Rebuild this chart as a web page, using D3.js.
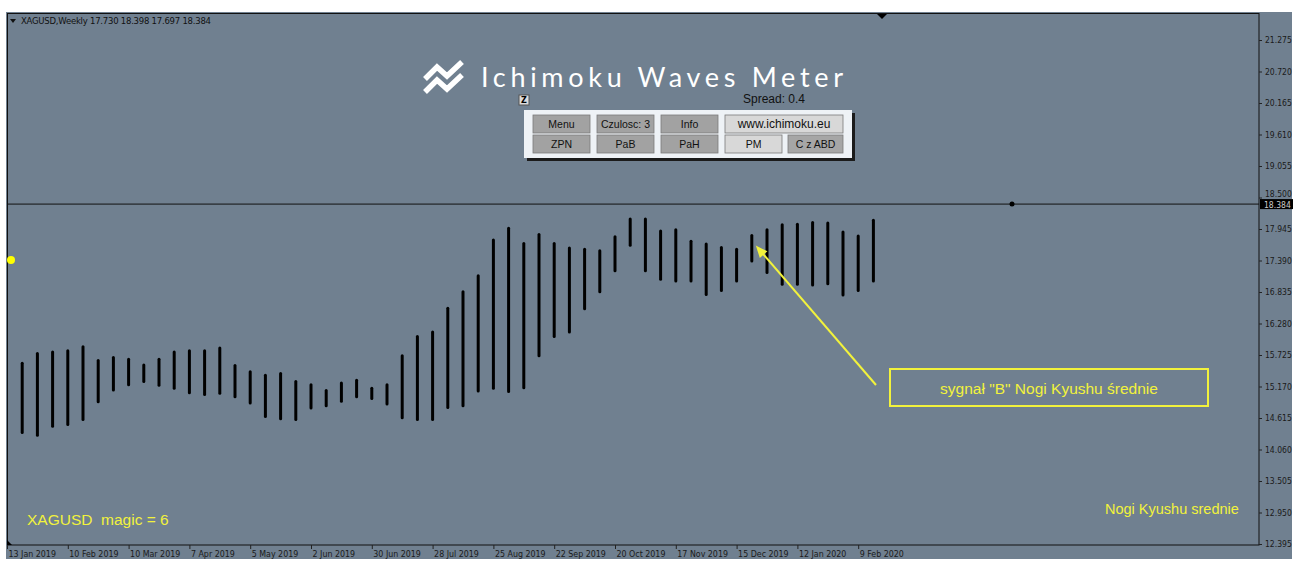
<!DOCTYPE html>
<html>
<head>
<meta charset="utf-8">
<script src="https://cdnjs.cloudflare.com/ajax/libs/d3/7.9.0/d3.min.js"></script>
<style>
  body { margin: 0; background: #fff; }
  svg { display: block; }
</style>
</head>
<body>
<script>
// weekly "Nogi Kyushu srednie" bars, first one is 20 Jan 2019 (index 1)
const barHigh = [15.58, 15.75, 15.78, 15.80, 15.87, 15.63, 15.68, 15.65, 15.55, 15.65,
  15.78, 15.80, 15.80, 15.85, 15.54, 15.43, 15.37, 15.40, 15.26, 15.20,
  15.10, 15.23, 15.28, 15.14, 15.20, 15.71, 16.05, 16.13, 16.55, 16.84,
  17.12, 17.75, 17.96, 17.69, 17.85, 17.69, 17.61, 17.59, 17.56, 17.81,
  18.12, 18.12, 17.91, 17.93, 17.73, 17.68, 17.62, 17.59, 17.83, 17.93,
  18.02, 18.03, 18.06, 18.05, 17.89, 17.82, 18.10];
const barLow = [14.36, 14.31, 14.47, 14.50, 14.59, 14.90, 15.11, 15.20, 15.26, 15.19,
  15.14, 15.06, 15.03, 15.05, 14.99, 14.88, 14.64, 14.60, 14.59, 14.79,
  14.83, 14.91, 14.99, 14.96, 14.86, 14.62, 14.59, 14.59, 14.80, 14.83,
  15.09, 15.14, 15.08, 15.15, 15.71, 16.05, 16.13, 16.54, 16.84, 17.21,
  17.66, 17.21, 17.06, 17.03, 17.03, 16.79, 16.86, 17.03, 17.38, 17.18,
  16.97, 16.97, 16.96, 16.98, 16.78, 16.86, 17.03];
const dateLabels = ["13 Jan 2019", "10 Feb 2019", "10 Mar 2019", "7 Apr 2019", "5 May 2019",
  "2 Jun 2019", "30 Jun 2019", "28 Jul 2019", "25 Aug 2019", "22 Sep 2019", "20 Oct 2019",
  "17 Nov 2019", "15 Dec 2019", "12 Jan 2020", "9 Feb 2020"];
const priceTicks = [21.275, 20.720, 20.165, 19.610, 19.055, 18.500, 17.945, 17.390, 16.835,
  16.280, 15.725, 15.170, 14.615, 14.060, 13.505, 12.950, 12.395];
const lastPrice = 18.384;
const signalBar = 49;

const W = 1297, H = 561;
const bg = "#708090", yel = "#f2f23c";
const axisFont = "'DejaVu Sans Condensed', 'DejaVu Sans', sans-serif";
const arial = "Arial, 'Liberation Sans', sans-serif";

const svg = d3.select("body").append("svg").attr("width", W).attr("height", H)
  .style("font-family", "'DejaVu Sans', sans-serif");

svg.append("rect").attr("x", 6).attr("y", 12).attr("width", 1286).attr("height", 547).attr("fill", bg);

const x = d3.scaleLinear().domain([0, 80]).range([7, 7 + 80 * 15.2]);
const y = d3.scaleLinear().domain([12.395, 21.275]).range([544, 40]);

// frame
svg.append("rect").attr("x", 7.5).attr("y", 13.5).attr("width", 1251.5).attr("height", 531.5)
  .attr("fill", "none").attr("stroke", "#111").attr("stroke-width", 1);

// right price axis (the label under the last-price box is hidden by it, as in MT4)
const yAxis = svg.append("g").attr("transform", "translate(1259,0)")
  .call(d3.axisRight(y).tickValues(priceTicks).tickFormat(d3.format(".3f")).tickSize(3).tickPadding(3));
yAxis.select(".domain").remove();
yAxis.selectAll("line").attr("stroke", "#222");
yAxis.selectAll("text").attr("fill", "#1a1a1a").style("font-size", "8.5px").style("font-family", axisFont);
yAxis.selectAll("text").filter(d => Math.abs(y(d) - y(lastPrice)) < 10).attr("dy", "-0.1em");

// bottom time axis
const xAxis = svg.append("g").attr("transform", "translate(0,545)")
  .call(d3.axisBottom(x).tickValues(dateLabels.map((d, i) => i * 4)).tickFormat((d, i) => dateLabels[i]).tickSize(4).tickPadding(0));
xAxis.select(".domain").remove();
xAxis.selectAll("line").attr("stroke", "#222");
xAxis.selectAll("text").attr("fill", "#1a1a1a").attr("text-anchor", "start").attr("dx", 1).attr("y", 6)
  .style("font-size", "8.8px").style("font-family", axisFont);

// last price line
svg.append("line").attr("x1", 7).attr("x2", 1259).attr("y1", y(lastPrice)).attr("y2", y(lastPrice))
  .attr("stroke", "#111").attr("stroke-width", 1);
svg.append("rect").attr("x", 1260).attr("y", y(lastPrice) - 5).attr("width", 33).attr("height", 10).attr("fill", "#000");
svg.append("text").attr("x", 1264).attr("y", y(lastPrice) + 3.5).text(d3.format(".3f")(lastPrice))
  .attr("fill", "#ccc").style("font-size", "8.5px").style("font-family", axisFont);
svg.append("circle").attr("cx", 1012).attr("cy", y(lastPrice)).attr("r", 2.5).attr("fill", "#000");

// chart shift marker + corner marker
svg.append("path").attr("d", "M877,14 L887,14 L882,19 Z").attr("fill", "#000");
svg.append("path").attr("d", "M7,540 L7,545 L12,545 Z").attr("fill", "#000");

// bars
svg.append("g").selectAll("line").data(barHigh).join("line")
  .attr("x1", (d, i) => x(i + 1)).attr("x2", (d, i) => x(i + 1))
  .attr("y1", d => y(d)).attr("y2", (d, i) => y(barLow[i]))
  .attr("stroke", "#000").attr("stroke-width", 3).attr("stroke-linecap", "round");

// yellow dot on left
svg.append("circle").attr("cx", 11).attr("cy", 260).attr("r", 4).attr("fill", "#ffff00");

// header
svg.append("path").attr("d", "M10,19 L16,19 L13,23 Z").attr("fill", "#111");
svg.append("text").attr("x", 21).attr("y", 24).text("XAGUSD,Weekly  17.730 18.398 17.697 18.384")
  .attr("fill", "#111").style("font-size", "8.5px").attr("textLength", 190)
  .style("font-family", "Tahoma, 'DejaVu Sans', sans-serif");

// logo
const logo = svg.append("g").attr("fill", "none").attr("stroke", "#fff").attr("stroke-width", 5.5)
  .attr("stroke-linejoin", "miter");
logo.append("path").attr("d", "M425,79 L437,67 L447,76 L462,62");
logo.append("path").attr("d", "M425,92 L437,80 L447,89 L462,75");
svg.append("text").attr("x", 481).attr("y", 87).text("Ichimoku  Waves  Meter")
  .attr("fill", "#fff").style("font-size", "27px").style("font-weight", 400)
  .style("font-family", "Lato, 'Noto Sans', sans-serif")
  .attr("textLength", 362).attr("lengthAdjust", "spacing");
svg.append("text").attr("x", 743).attr("y", 103).text("Spread: 0.4")
  .attr("fill", "#111").style("font-size", "12px").style("font-family", arial);

// Z button
svg.append("rect").attr("x", 519).attr("y", 95).attr("width", 10).attr("height", 10).attr("fill", "#dcdcdc").attr("stroke", "#555");
svg.append("text").attr("x", 524).attr("y", 103).attr("text-anchor", "middle").text("Z")
  .attr("fill", "#000").style("font-size", "8px").style("font-weight", "bold");

// panel
svg.append("rect").attr("x", 527).attr("y", 113).attr("width", 328).attr("height", 48).attr("fill", "#1b1b1b");
svg.append("rect").attr("x", 524).attr("y", 110).attr("width", 328).attr("height", 48).attr("fill", "#eef2f6");
const buttons = [
  ["Menu", 533, 115, 57, "#a2a2a2"], ["Czulosc: 3", 597, 115, 57, "#a2a2a2"], ["Info", 661, 115, 57, "#a2a2a2"],
  ["www.ichimoku.eu", 725, 115, 118, "#d8d8d8"],
  ["ZPN", 533, 135, 57, "#a2a2a2"], ["PaB", 597, 135, 57, "#a2a2a2"], ["PaH", 661, 135, 57, "#a2a2a2"],
  ["PM", 725, 135, 57, "#d8d8d8"], ["C z ABD", 788, 135, 55, "#a6a6a6"]
];
const btn = svg.append("g").selectAll("g").data(buttons).join("g");
btn.append("rect").attr("x", d => d[1]).attr("y", d => d[2]).attr("width", d => d[3]).attr("height", 18)
  .attr("fill", d => d[4]).attr("stroke", "#7a7a7a").attr("stroke-width", 0.8);
btn.append("text").attr("x", d => d[1] + d[3] / 2).attr("y", d => d[2] + 13).attr("text-anchor", "middle")
  .text(d => d[0]).attr("fill", "#111")
  .style("font-size", d => d[0].startsWith("www") ? "12px" : "10.5px")
  .style("font-family", arial);

// bottom labels
svg.append("text").attr("x", 27).attr("y", 525).text("XAGUSD  magic = 6").attr("fill", yel)
  .style("font-size", "15.5px").style("font-family", arial).attr("xml:space", "preserve");
svg.append("text").attr("x", 1105).attr("y", 514).text("Nogi Kyushu srednie").attr("fill", yel)
  .style("font-size", "14.5px").style("font-family", arial);

// annotation arrow + box
const tipX = x(signalBar) + 4, tipY = y(barHigh[signalBar - 1]) + 10;
const tailX = 876, tailY = 385;
const ang = Math.atan2(tipY - tailY, tipX - tailX);
svg.append("line").attr("x1", tailX).attr("y1", tailY).attr("x2", tipX - 6 * Math.cos(ang)).attr("y2", tipY - 6 * Math.sin(ang))
  .attr("stroke", yel).attr("stroke-width", 2);
const hl = 12, hw = 5;
const bx = tipX - hl * Math.cos(ang), by = tipY - hl * Math.sin(ang);
svg.append("path").attr("fill", yel).attr("d",
  `M${tipX},${tipY} L${bx + hw * Math.sin(ang)},${by - hw * Math.cos(ang)} L${bx - hw * Math.sin(ang)},${by + hw * Math.cos(ang)} Z`);
svg.append("rect").attr("x", 890).attr("y", 369).attr("width", 318).attr("height", 37)
  .attr("fill", "none").attr("stroke", yel).attr("stroke-width", 2);
svg.append("text").attr("x", 1049).attr("y", 394).attr("text-anchor", "middle")
  .text("sygnał \"B\" Nogi Kyushu średnie").attr("fill", yel)
  .style("font-size", "15.5px").style("font-family", arial);
</script>
</body>
</html>
